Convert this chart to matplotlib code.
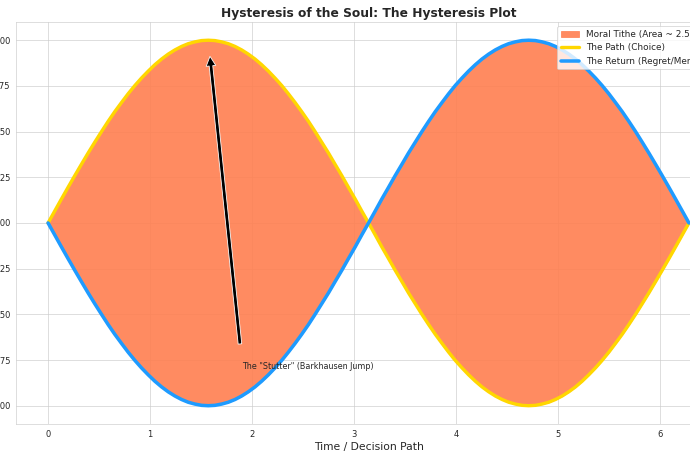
import matplotlib
matplotlib.use("Agg")
import matplotlib.pyplot as plt
import seaborn as sns

# decision path positions (0 .. 2*pi)
decision = [0.000, 0.065, 0.131, 0.196, 0.262, 0.327, 0.393, 0.458, 0.524, 0.589,
            0.654, 0.720, 0.785, 0.851, 0.916, 0.982, 1.047, 1.113, 1.178, 1.244,
            1.309, 1.374, 1.440, 1.505, 1.571, 1.636, 1.702, 1.767, 1.833, 1.898,
            1.963, 2.029, 2.094, 2.160, 2.225, 2.291, 2.356, 2.422, 2.487, 2.553,
            2.618, 2.683, 2.749, 2.814, 2.880, 2.945, 3.011, 3.076, 3.142, 3.207,
            3.272, 3.338, 3.403, 3.469, 3.534, 3.600, 3.665, 3.731, 3.796, 3.862,
            3.927, 3.992, 4.058, 4.123, 4.189, 4.254, 4.320, 4.385, 4.451, 4.516,
            4.581, 4.647, 4.712, 4.778, 4.843, 4.909, 4.974, 5.040, 5.105, 5.171,
            5.236, 5.301, 5.367, 5.432, 5.498, 5.563, 5.629, 5.694, 5.760, 5.825,
            5.890, 5.956, 6.021, 6.087, 6.152, 6.218, 6.283]

# the path (choice), yellow curve
path = [0.000, 0.065, 0.131, 0.195, 0.259, 0.321, 0.383, 0.442, 0.500, 0.556,
        0.609, 0.659, 0.707, 0.752, 0.793, 0.831, 0.866, 0.897, 0.924, 0.947,
        0.966, 0.981, 0.991, 0.998, 1.000, 0.998, 0.991, 0.981, 0.966, 0.947,
        0.924, 0.897, 0.866, 0.831, 0.793, 0.752, 0.707, 0.659, 0.609, 0.556,
        0.500, 0.442, 0.383, 0.321, 0.259, 0.195, 0.131, 0.065, 0.000, -0.065,
        -0.131, -0.195, -0.259, -0.321, -0.383, -0.442, -0.500, -0.556, -0.609, -0.659,
        -0.707, -0.752, -0.793, -0.831, -0.866, -0.897, -0.924, -0.947, -0.966, -0.981,
        -0.991, -0.998, -1.000, -0.998, -0.991, -0.981, -0.966, -0.947, -0.924, -0.897,
        -0.866, -0.831, -0.793, -0.752, -0.707, -0.659, -0.609, -0.556, -0.500, -0.442,
        -0.383, -0.321, -0.259, -0.195, -0.131, -0.065, 0.000]

# the return (regret/memory), blue curve
ret = [0.000, -0.065, -0.131, -0.195, -0.259, -0.321, -0.383, -0.442, -0.500, -0.556,
       -0.609, -0.659, -0.707, -0.752, -0.793, -0.831, -0.866, -0.897, -0.924, -0.947,
       -0.966, -0.981, -0.991, -0.998, -1.000, -0.998, -0.991, -0.981, -0.966, -0.947,
       -0.924, -0.897, -0.866, -0.831, -0.793, -0.752, -0.707, -0.659, -0.609, -0.556,
       -0.500, -0.442, -0.383, -0.321, -0.259, -0.195, -0.131, -0.065, 0.000, 0.065,
       0.131, 0.195, 0.259, 0.321, 0.383, 0.442, 0.500, 0.556, 0.609, 0.659,
       0.707, 0.752, 0.793, 0.831, 0.866, 0.897, 0.924, 0.947, 0.966, 0.981,
       0.991, 0.998, 1.000, 0.998, 0.991, 0.981, 0.966, 0.947, 0.924, 0.897,
       0.866, 0.831, 0.793, 0.752, 0.707, 0.659, 0.609, 0.556, 0.500, 0.442,
       0.383, 0.321, 0.259, 0.195, 0.131, 0.065, 0.000]

area_label = "Moral Tithe (Area ~ 2.55)"

sns.set_style("whitegrid")

fig = plt.figure(figsize=(12, 8), dpi=57.5)
ax = fig.add_axes([0.0232, 0.0783, 1.0217, 0.874])

ax.fill_between(decision, path, ret, color="#FF7F50", alpha=0.9, label=area_label)
ax.plot(decision, path, color="#FFD700", lw=4.2, label="The Path (Choice)")
ax.plot(decision, ret, color="#1E9BFF", lw=4.4, label="The Return (Regret/Memory)")

ax.annotate('The "Stutter" (Barkhausen Jump)', xy=(1.571, 1.0), xytext=(1.9, -0.8),
            arrowprops=dict(facecolor="black", shrink=0.05, width=4.5), fontsize=10)

ax.set_title("Hysteresis of the Soul: The Hysteresis Plot", fontsize=15.3, fontweight="bold")
ax.set_xlabel("Time / Decision Path", fontsize=13.5)
ax.set_ylabel("Magnetization / Moral State", fontsize=13.5)
ax.tick_params(labelsize=10.5)
ax.legend(loc="upper right", fontsize=11.1)

fig.savefig("out.png", dpi=57.5)
